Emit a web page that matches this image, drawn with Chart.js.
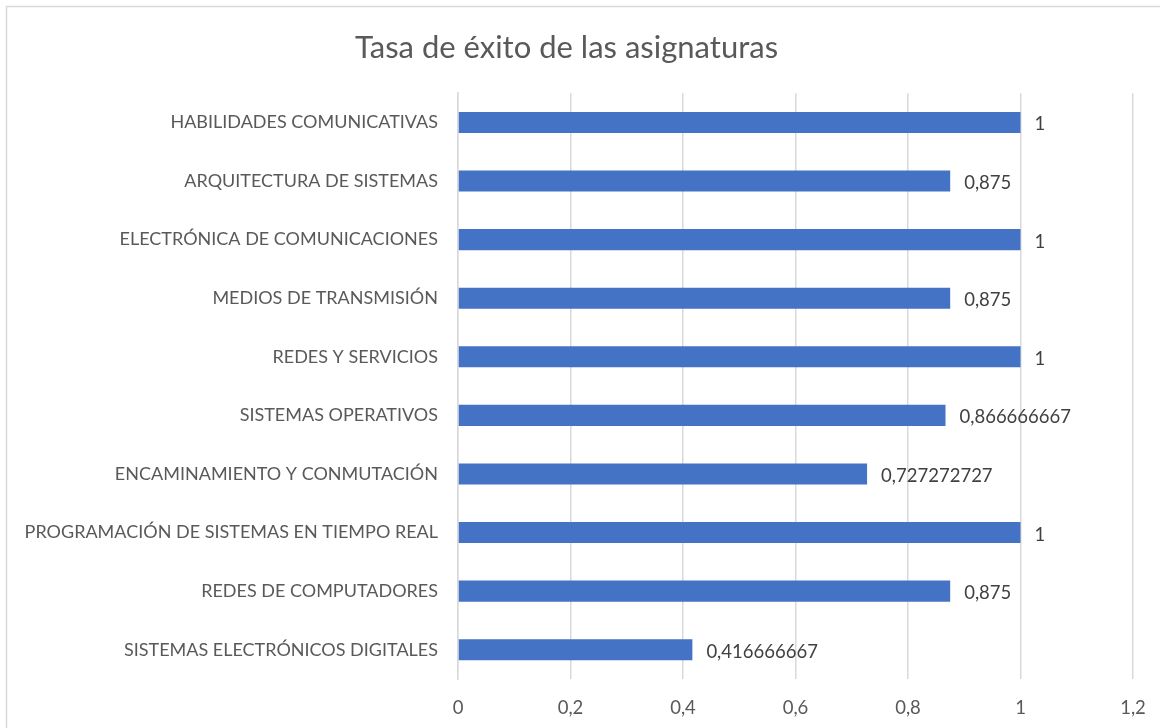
<!DOCTYPE html>
<html>
<head>
<meta charset="utf-8">
<script src="https://cdn.jsdelivr.net/npm/chart.js@4.4.1/dist/chart.umd.min.js"></script>
<style>
  html, body { margin: 0; padding: 0; background: #fff; }
  #wrap { width: 1160px; height: 728px; }
</style>
</head>
<body>
<div id="wrap"><canvas id="myChart"></canvas></div>
<script>
const categories = [
  'HABILIDADES COMUNICATIVAS',
  'ARQUITECTURA DE SISTEMAS',
  'ELECTRÓNICA DE COMUNICACIONES',
  'MEDIOS DE TRANSMISIÓN',
  'REDES Y SERVICIOS',
  'SISTEMAS OPERATIVOS',
  'ENCAMINAMIENTO Y CONMUTACIÓN',
  'PROGRAMACIÓN DE SISTEMAS EN TIEMPO REAL',
  'REDES DE COMPUTADORES',
  'SISTEMAS ELECTRÓNICOS DIGITALES'
];
const tasaExito = [1, 0.875, 1, 0.875, 1, 0.866666667, 0.727272727, 1, 0.875, 0.416666667];
const xTicks = ['0', '0,2', '0,4', '0,6', '0,8', '1', '1,2'];

const fontFam = 'Lato, "Open Sans", sans-serif';
const grey = '#595959';

// marco gris y etiquetas de valor al final de cada barra
const extras = {
  id: 'extras',
  beforeDraw(chart) {
    const c = chart.ctx;
    c.save();
    c.fillStyle = '#fff';
    c.fillRect(0, 0, chart.width, chart.height);
    c.strokeStyle = '#d9d9d9';
    c.lineWidth = 1.5;
    c.beginPath();
    c.moveTo(6.5, chart.height);
    c.lineTo(6.5, 6.5);
    c.lineTo(chart.width, 6.5);
    c.stroke();
    c.restore();
  },
  afterDatasetsDraw(chart) {
    const c = chart.ctx;
    const meta = chart.getDatasetMeta(0);
    c.save();
    c.font = '18.5px ' + fontFam;
    c.fillStyle = '#404040';
    c.textAlign = 'left';
    c.textBaseline = 'middle';
    meta.data.forEach((bar, i) => {
      const txt = String(tasaExito[i]).replace('.', ',');
      c.fillText(txt, bar.x + 14, bar.y + 2);
    });
    c.restore();
  }
};

new Chart(document.getElementById('myChart'), {
  type: 'bar',
  data: {
    labels: categories,
    datasets: [{
      label: 'Tasa de éxito',
      data: tasaExito,
      backgroundColor: '#4472C4',
      borderWidth: 0,
      barPercentage: 0.72,
      categoryPercentage: 0.5
    }]
  },
  options: {
    indexAxis: 'y',
    responsive: true,
    maintainAspectRatio: false,
    animation: false,
    layout: { padding: { left: 0, right: 27, top: 0, bottom: 0 } },
    plugins: {
      legend: { display: false },
      tooltip: { enabled: false },
      title: {
        display: true,
        text: 'Tasa de éxito de las asignaturas',
        color: grey,
        font: { family: fontFam, size: 31, weight: 'normal' },
        padding: { top: 29, bottom: 27 }
      }
    },
    scales: {
      x: {
        min: 0,
        max: 1.2,
        ticks: {
          stepSize: 0.2,
          color: grey,
          font: { family: fontFam, size: 18.5 },
          padding: 18,
          callback: (v, i) => xTicks[i]
        },
        grid: { color: '#d9d9d9', lineWidth: 1.5, drawTicks: false },
        border: { display: false },
        afterFit(scale) {
          scale.height = 49;
          scale.paddingLeft = 0;
          scale.paddingRight = 0;
        }
      },
      y: {
        ticks: {
          color: grey,
          font: { family: fontFam, size: 18 },
          padding: 20
        },
        grid: { display: false, drawTicks: false },
        border: { color: '#d9d9d9', width: 1.5 },
        afterFit(scale) { scale.width = 458; }
      }
    }
  },
  plugins: [extras]
});
</script>
</body>
</html>
